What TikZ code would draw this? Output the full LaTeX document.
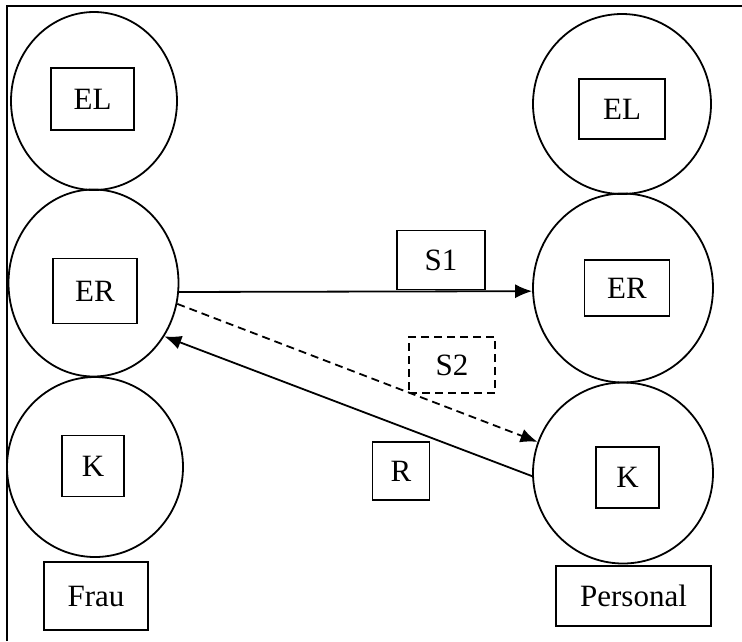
\documentclass[tikz,border=0pt]{standalone}
\usepackage{fontspec}
\setmainfont{Liberation Serif}
\usetikzlibrary{shapes.geometric,arrows.meta}
\begin{document}
\begin{tikzpicture}[x=1pt,y=-1pt,
  ring/.style={draw, ellipse, line width=1.8pt, inner sep=0pt},
  tagbox/.style={draw, rectangle, line width=1.8pt, inner sep=0pt,
    font=\fontsize{31}{36}\selectfont},
  dashbox/.style={tagbox, dash pattern=on 8pt off 5pt},
  link/.style={line width=1.8pt, -{Latex[length=17pt,width=14pt]}},
  dashlink/.style={link, dash pattern=on 8pt off 5pt}]

\useasboundingbox (0,0) rectangle (742,641);

% outer frame (top and left edges)
\draw[line width=2pt] (7,641) -- (7,6) -- (742,6);

% left column: Frau
\node[ring, minimum width=166pt, minimum height=178pt] (elL) at (94,101) {};
\node[ring, minimum width=170pt, minimum height=187pt] (erL) at (93.5,283) {};
\node[ring, minimum width=176pt, minimum height=180pt] (kL) at (95,467) {};
\node[tagbox, minimum width=83pt, minimum height=62pt] (elLb) at (92.5,99) {EL};
\node[tagbox, minimum width=84pt, minimum height=65pt] (erLb) at (95,291) {ER};
\node[tagbox, minimum width=62pt, minimum height=61pt] (kLb) at (93,466) {K};
\node[tagbox, minimum width=104pt, minimum height=68pt] (frau) at (96,596) {Frau};

% right column: Personal
\node[ring, minimum width=178pt, minimum height=180pt] (elR) at (622,104) {};
\node[ring, minimum width=180pt, minimum height=189pt] (erR) at (623,288) {};
\node[ring, minimum width=180pt, minimum height=181pt] (kR) at (623,473) {};
\node[tagbox, minimum width=86pt, minimum height=60pt] (elRb) at (622,109) {EL};
\node[tagbox, minimum width=85pt, minimum height=56pt] (erRb) at (627,288) {ER};
\node[tagbox, minimum width=63pt, minimum height=61pt] (kRb) at (627.5,477.5) {K};
\node[tagbox, minimum width=155pt, minimum height=60pt] (personal) at (633.5,596) {Personal};

% message labels
\node[tagbox, minimum width=88pt, minimum height=59pt] (s1) at (441,260) {S1};
\node[dashbox, minimum width=86pt, minimum height=56pt] (s2) at (452,365) {S2};
\node[tagbox, minimum width=57pt, minimum height=58pt] (r) at (401,471) {R};

% messages
\draw[link] (erL.-6) -- (erR.182.5);
\draw[dashlink] (erL.-14) -- (kR.160);
\draw[link] (kR.182.5) -- (erL.-37);
\end{tikzpicture}
\end{document}
